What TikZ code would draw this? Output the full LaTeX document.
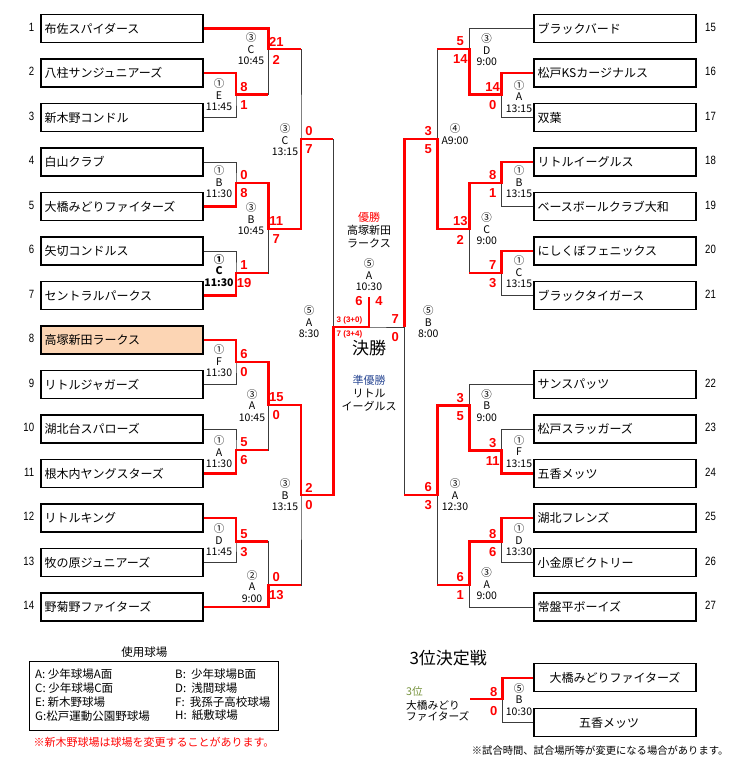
\documentclass[tikz,border=0pt]{standalone}
\usepackage{fontspec}
\setmainfont{Noto Sans CJK JP}
\newfontfamily\scorefont{Liberation Sans}
\newfontfamily\numfont[FakeStretch=0.8]{Liberation Sans}
\definecolor{rd}{HTML}{FF0000}
\definecolor{gl}{HTML}{3C3C3C}
\definecolor{peach}{HTML}{FCD5B4}
\definecolor{navy}{HTML}{2E4C96}
\definecolor{olive}{HTML}{76923C}
\tikzset{
 tbox/.style={draw=black, line width=1.1pt, minimum width=162pt, minimum height=28pt, text width=155pt, inner xsep=3.5pt, inner ysep=0pt, align=left, font=\fontsize{12}{14}\selectfont},
 gline/.style={draw=gl, line width=0.9pt},
 rline/.style={draw=rd, line width=2.5pt, line join=miter},
 sc/.style={text=rd, font=\scorefont\bfseries\fontsize{13}{13}\selectfont, inner sep=0pt},
 scs/.style={text=rd, font=\scorefont\bfseries\fontsize{8}{8}\selectfont, inner sep=0pt, anchor=west},
 mlab/.style={align=center, font=\fontsize{10.5}{11.6}\selectfont, inner sep=0pt},
 rnum/.style={font=\numfont\fontsize{12}{12}\selectfont, inner sep=0pt},
 txt/.style={inner sep=0pt, font=\fontsize{11}{12.8}\selectfont},
 legt/.style={inner sep=0pt, anchor=west, font=\fontsize{11.5}{12.8}\selectfont},
}
\begin{document}
\begin{tikzpicture}[x=1pt,y=-1pt]
\useasboundingbox (0,0) rectangle (737,765);
% ---------- team boxes ----------
\foreach \i/\nm in {1/布佐スパイダース,2/八柱サンジュニアーズ,3/新木野コンドル,4/白山クラブ,5/大橋みどりファイターズ,6/矢切コンドルス,7/セントラルパークス,9/リトルジャガーズ,10/湖北台スパローズ,11/根木内ヤングスターズ,12/リトルキング,13/牧の原ジュニアーズ,14/野菊野ファイターズ}{
  \node[tbox] (t\i) at (122,{28.5+(\i-1)*44.5}) {\nm};
  \node[rnum,anchor=east] (k\i) at (34.3,{27+(\i-1)*44.5}) {\i};
}
\node[tbox,fill=peach] (t8) at (122,{28.5+7*44.5}) {高塚新田ラークス};
\node[rnum,anchor=east] (k8) at (34.3,{27+7*44.5}) {8};
\foreach \i/\r/\nm in {15/1/ブラックバード,16/2/松戸KSカージナルス,17/3/双葉,18/4/リトルイーグルス,19/5/ベースボールクラブ大和,20/6/にしくぼフェニックス,21/7/ブラックタイガース,22/9/サンスパッツ,23/10/松戸スラッガーズ,24/11/五香メッツ,25/12/湖北フレンズ,26/13/小金原ビクトリー,27/14/常盤平ボーイズ}{
  \node[tbox] (t\i) at (615,{28.5+(\r-1)*44.5}) {\nm};
  \node[rnum,anchor=west] (k\i) at (705,{27+(\r-1)*44.5}) {\i};
}
% ---------- junction coordinates ----------
\coordinate (m1) at (236,94.5);
\coordinate (m2) at (268.3,49);
\coordinate (m3) at (236,183);
\coordinate (m4) at (236,273);
\coordinate (m5) at (268.3,229);
\coordinate (m6) at (301,139);
\coordinate (m7) at (236,362);
\coordinate (m8) at (236,450);
\coordinate (m9) at (268.3,405);
\coordinate (m10) at (236,541.5);
\coordinate (m11) at (268.3,585);
\coordinate (m12) at (301,495);
\coordinate (sL) at (333.3,327);
\coordinate (fin) at (369,327);
\coordinate (champ) at (369,296.7);
\coordinate (sR) at (404.3,327);
\coordinate (n1) at (501.7,94.5);
\coordinate (n2) at (469.3,49);
\coordinate (n3) at (501.7,183);
\coordinate (n4) at (501.7,273);
\coordinate (n5) at (469.3,229);
\coordinate (n6) at (437.3,139);
\coordinate (n7) at (501.7,450.5);
\coordinate (n8) at (469.3,405.5);
\coordinate (n9) at (501.7,541.5);
\coordinate (n10) at (469.3,585);
\coordinate (n11) at (437.3,495);
% ---------- grey bracket ----------
\draw[gline] (t2.east) -| (m1) |- (t3.east);
\draw[gline] (t1.east) -| (m2) |- (m1);
\draw[gline] (t4.east) -| (m3) |- (t5.east);
\draw[gline] (t6.east) -| (m4) |- (t7.east);
\draw[gline] (m3) -| (m5) |- (m4);
\draw[gline] (m2) -| (m6) |- (m5);
\draw[gline] (t8.east) -| (m7) |- (t9.east);
\draw[gline] (t10.east) -| (m8) |- (t11.east);
\draw[gline] (m7) -| (m9) |- (m8);
\draw[gline] (t12.east) -| (m10) |- (t13.east);
\draw[gline] (m10) -| (m11) |- (t14.east);
\draw[gline] (m9) -| (m12) |- (m11);
\draw[gline] (m6) -| (sL) |- (m12);
\draw[gline] (sL) -- (fin) -- (sR);
\draw[gline] (t16.west) -| (n1) |- (t17.west);
\draw[gline] (t15.west) -| (n2) |- (n1);
\draw[gline] (t18.west) -| (n3) |- (t19.west);
\draw[gline] (t20.west) -| (n4) |- (t21.west);
\draw[gline] (n3) -| (n5) |- (n4);
\draw[gline] (n2) -| (n6) |- (n5);
\draw[gline] (t23.west) -| (n7) |- (t24.west);
\draw[gline] (t22.west) -| (n8) |- (n7);
\draw[gline] (t25.west) -| (n9) |- (t26.west);
\draw[gline] (n9) -| (n10) |- (t27.west);
\draw[gline] (n8) -| (n11) |- (n10);
\draw[gline] (n6) -| (sR) |- (n11);
% ---------- winners (red) ----------
\draw[rline] (t2.east) -| (m1) -- (m1 -| m2);
\draw[rline] (t1.east) -| (m2) -- (m2 -| m6);
\draw[rline] (t5.east) -| (m3) -- (m3 -| m5);
\draw[rline] (t7.east) -| (m4) -- (m4 -| m5);
\draw[rline] (m3) -| (m5) -- (m5 -| m6);
\draw[rline] (m5) -| (m6) -- (m6 -| sL);
\draw[rline] (t8.east) -| (m7) -- (m7 -| m9);
\draw[rline] (t11.east) -| (m8) -- (m8 -| m9);
\draw[rline] (m7) -| (m9) -- (m9 -| m12);
\draw[rline] (t12.east) -| (m10) -- (m10 -| m11);
\draw[rline] (t14.east) -| (m11) -- (m11 -| m12);
\draw[rline] (m9) -| (m12) -- (m12 -| sL);
\draw[rline] (m12) -| (sL) -- (fin) -- (champ);
\draw[rline] (t16.west) -| (n1) -- (n1 -| n2);
\draw[rline] (n1) -| (n2) -- (n2 -| n6);
\draw[rline] (t18.west) -| (n3) -- (n3 -| n5);
\draw[rline] (t20.west) -| (n4) -- (n4 -| n5);
\draw[rline] (n3) -| (n5) -- (n5 -| n6);
\draw[rline] (n5) -| (n6) -- (n6 -| sR);
\draw[rline] (t24.west) -| (n7) -- (n7 -| n8);
\draw[rline] (n7) -| (n8) -- (n8 -| n11);
\draw[rline] (t25.west) -| (n9) -- (n9 -| n10);
\draw[rline] (n9) -| (n10) -- (n10 -| n11);
\draw[rline] (n8) -| (n11) -- (n11 -| sR);
\draw[rline] (n6) -| (sR);
% ---------- scores ----------
\foreach \nm/\x/\y/\a/\b in {a1/236/94.5/8/1, a2/268.3/49/21/2, a3/236/183/0/8, a4/236/273/1/19, a5/268.3/229/11/7, a6/301/139/0/7, a7/236/362/6/0, a8/236/450/5/6, a9/268.3/405/15/0, a10/236/541.5/5/3, a11/268.3/585/0/13, a12/301/495/2/0}{
  \node[sc] (\nm u) at ({\x+8},{\y-7.5}) {\a};
  \node[sc] (\nm d) at ({\x+8},{\y+10.5}) {\b};
}
\foreach \nm/\x/\y/\a/\b in {b1/501.7/94.5/14/0, b2/469.3/49/5/14, b3/501.7/183/8/1, b4/501.7/273/7/3, b5/469.3/229/13/2, b6/437.3/139/3/5, b7/501.7/450.5/3/11, b8/469.3/405.5/3/5, b9/501.7/541.5/8/6, b10/469.3/585/6/1, b11/437.3/495/6/3, bs/404.3/327/7/0}{
  \node[sc] (\nm u) at ({\x-9},{\y-7.5}) {\a};
  \node[sc] (\nm d) at ({\x-9},{\y+10.5}) {\b};
}
\node[scs] (asu) at (336.5,320.7) {3 (3+0)};
\node[scs] (asd) at (336.5,334) {7 (3+4)};
\node[sc] (fl) at (359,301) {6};
\node[sc] (fr) at (379,301) {4};
% ---------- match labels ----------
\foreach \nm/\x/\y/\t in {g1/219/95/{①\\E\\11:45}, g2/251/49/{③\\C\\10:45}, g3/219/182/{①\\B\\11:30}, g5/251/219/{③\\B\\10:45}, g6/285/140/{③\\C\\13:15}, g7/219/361/{①\\F\\11:30}, g8/219/452/{①\\A\\11:30}, g9/252/405.5/{③\\A\\10:45}, g10/219/540/{①\\D\\11:45}, g11/252/586.5/{②\\A\\9:00}, g12/285/495/{③\\B\\13:15}, gsl/309/322/{⑤\\A\\8:30}, gf/369/275/{⑤\\A\\10:30}, gsr/428.3/322/{⑤\\B\\8:00}, h1/519/96.5/{①\\A\\13:15}, h2/486.7/50/{③\\D\\9:00}, h3/519/181.7/{①\\B\\13:15}, h4/519/271.7/{①\\C\\13:15}, h5/486.7/229/{③\\C\\9:00}, h6/455/134/{④\\A9:00}, h7/519/451.5/{①\\F\\13:15}, h8/486.7/405.5/{③\\B\\9:00}, h9/519/540/{①\\D\\13:30}, h10/486.7/584/{③\\A\\9:00}, h11/455/495/{③\\A\\12:30}, h3rd/519/699.5/{⑤\\B\\10:30}}{
  \node[mlab] (\nm) at (\x,\y) {\t};
}
\node[mlab,font=\bfseries\fontsize{10.5}{11.6}\selectfont] (g4) at (219,270.5) {①\\C\\11:30};
% ---------- centre texts ----------
\node[txt,text=rd] (yusho) at (369,217) {優勝};
\node[txt,align=center] (yname) at (369,236.7) {高塚新田\\ラークス};
\node[inner sep=0pt,font=\fontsize{17}{17}\selectfont] (kessho) at (369,348) {決勝};
\node[txt,text=navy] (jun) at (369,380.5) {準優勝};
\node[txt,align=center] (jname) at (369,400) {リトル\\イーグルス};
% ---------- legend ----------
\node[txt,font=\fontsize{11.5}{12.8}\selectfont] (legtitle) at (144.3,651.7) {使用球場};
\node[draw=black,line width=1pt,minimum width=249pt,minimum height=68.3pt,inner sep=0pt] (legbox) at (153.8,695.85) {};
\node[legt] (lA) at (35,674.3) {A:\ 少年球場A面};
\node[legt] (lC) at (35,688) {C:\ 少年球場C面};
\node[legt] (lE) at (35,702) {E:\ 新木野球場};
\node[legt] (lG) at (35,715.7) {G:松戸運動公園野球場};
\node[legt] (lB) at (175,674.3) {B:\ \ 少年球場B面};
\node[legt] (lD) at (175,688) {D:\ \ 浅間球場};
\node[legt] (lF) at (175,702) {F:\ \ 我孫子高校球場};
\node[legt] (lH) at (175,715.7) {H:\ \ 紙敷球場};
\node[txt,anchor=west,text=rd] (note1) at (33.3,742.3) {※新木野球場は球場を変更することがあります。};
% ---------- third place ----------
\node[inner sep=0pt,anchor=west,font=\fontsize{17}{17}\selectfont] (third) at (409.3,657.7) {3位決定戦};
\node[tbox,align=center] (t3a) at (615,677.8) {大橋みどりファイターズ};
\node[tbox,align=center] (t3b) at (615,722.5) {五香メッツ　};
\coordinate (p3) at (502.3,699);
\coordinate (q3) at (470,699);
\draw[gline] (p3) |- (t3b.west);
\draw[rline] (t3a.west) -| (p3) -- (q3);
\node[sc] (c3u) at (493.7,691.7) {8};
\node[sc] (c3d) at (493.7,711) {0};
\node[inner sep=0pt,anchor=west,text=olive,font=\fontsize{10.7}{12}\selectfont] (p3l) at (406,691.7) {3位};
\node[inner sep=0pt,anchor=west,font=\fontsize{10.7}{12}\selectfont] (p3n1) at (406,705) {大橋みどり};
\node[inner sep=0pt,anchor=west,font=\fontsize{10.7}{12}\selectfont] (p3n2) at (406,716.7) {ファイターズ};
\node[inner sep=0pt,anchor=west,font=\fontsize{10.3}{12}\selectfont] (note2) at (471.7,751) {※試合時間、試合場所等が変更になる場合があります。};
\end{tikzpicture}
\end{document}
